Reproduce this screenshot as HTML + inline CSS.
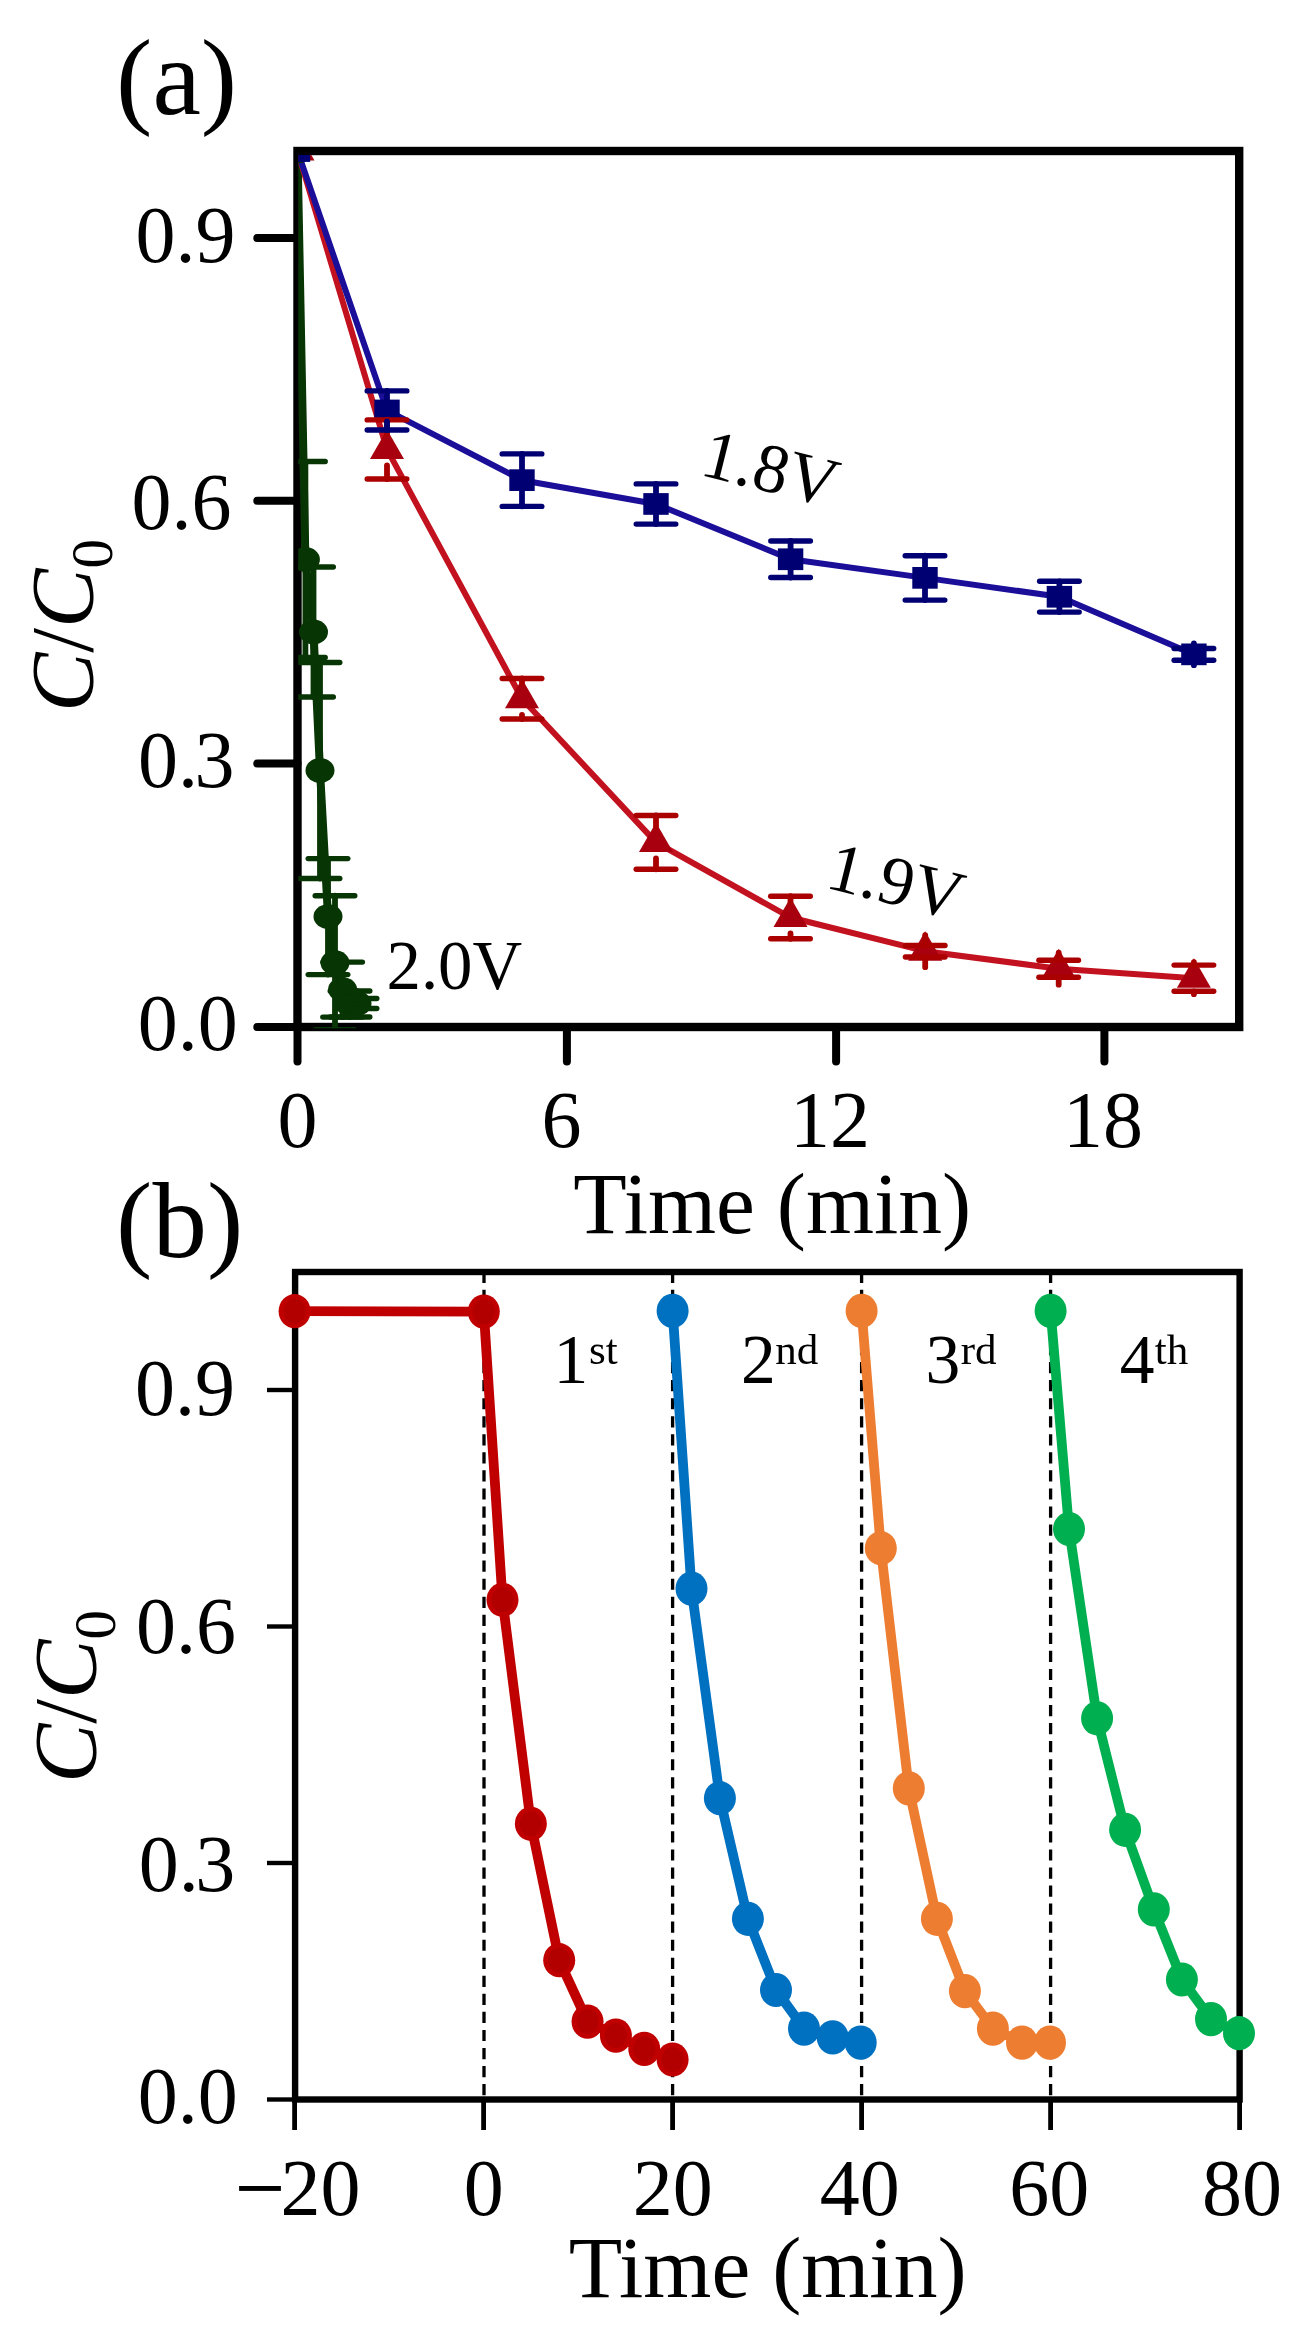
<!DOCTYPE html>
<html><head><meta charset="utf-8"><style>
html,body{margin:0;padding:0;background:#fff;width:1301px;height:2339px;overflow:hidden}
svg{display:block;will-change:transform}
text{font-family:"Liberation Serif",serif}
</style></head><body>
<svg width="1301" height="2339" viewBox="0 0 1301 2339">
<rect width="1301" height="2339" fill="#fff"/>
<g stroke="#000" stroke-width="8" stroke-linecap="round"><line x1="257.3" y1="238" x2="297.5" y2="238"/><line x1="257.3" y1="500.8" x2="297.5" y2="500.8"/><line x1="257.3" y1="763.5" x2="297.5" y2="763.5"/><line x1="257.3" y1="1027" x2="297.5" y2="1027"/><line x1="297.5" y1="1027" x2="297.5" y2="1061.6"/><line x1="566.9" y1="1027" x2="566.9" y2="1061.6"/><line x1="836.1" y1="1027" x2="836.1" y2="1061.6"/><line x1="1104.4" y1="1027" x2="1104.4" y2="1061.6"/></g>
<rect x="297.5" y="151" width="941.7" height="876" fill="none" stroke="#000" stroke-width="8.4" stroke-linejoin="miter"/>
<g font-family="Liberation Serif, serif" fill="#000">
<text x="116.10" y="114.00" font-size="109" >(a)</text>
<text x="135.50" y="262.20" font-size="80" >0.9</text>
<text x="131.50" y="529.20" font-size="80" >0.6</text>
<text x="137.9" y="787.2" font-size="80">0.<tspan dx="-3.5">3</tspan></text>
<text x="137.85" y="1050.10" font-size="80" >0.0</text>
<text x="277.50" y="1147.20" font-size="80" >0</text>
<text x="541.50" y="1147.20" font-size="80" >6</text>
<text x="789.90" y="1147.20" font-size="80" >12</text>
<text x="1062.90" y="1147.20" font-size="80" >18</text>
<text x="573.30" y="1232.90" font-size="87.5" >Time (min)</text>
<text transform="translate(92.3 712.05) rotate(-90)" font-size="89"><tspan font-style="italic">C</tspan>/<tspan font-style="italic">C</tspan><tspan font-size="59" dy="20.1">0</tspan></text>
<text x="386.50" y="989.40" font-size="68.8" >2.0V</text>
<text transform="translate(698.6 474.5) rotate(14)" font-size="69.5">1.8V</text>
<text transform="translate(823.9 887.2) rotate(14)" font-size="69.5">1.9V</text>
</g>
<defs><clipPath id="ca"><rect x="298.2" y="155" width="945" height="873.3"/></clipPath></defs>
<g clip-path="url(#ca)">
<polyline points="297.5,151.0 305.4,559.5 313.5,632.0 320.0,770.5 328.0,916.6 335.0,962.7 342.6,989.6 350.0,1004.0 357.0,1003.5" fill="none" stroke="#073503" stroke-width="8" stroke-linejoin="round"/>
<polyline points="297.5,151.0 387.0,449.4 522.0,698.8 656.0,842.4 790.5,917.5 925.2,951.2 1058.7,968.7 1193.9,978.2" fill="none" stroke="#c3121f" stroke-width="6" stroke-linejoin="round"/>
<polyline points="297.5,151.0 387.0,410.4 522.0,480.2 656.0,504.0 790.6,559.2 925.0,577.9 1059.4,596.7 1193.9,654.4" fill="none" stroke="#1b0e99" stroke-width="6" stroke-linejoin="round"/>
<ellipse cx="297.5" cy="151" rx="14.5" ry="12.4" fill="#073503"/>
<ellipse cx="305.4" cy="559.5" rx="14.5" ry="12.4" fill="#073503"/>
<ellipse cx="313.5" cy="632" rx="14.5" ry="12.4" fill="#073503"/>
<ellipse cx="320" cy="770.5" rx="14.5" ry="12.4" fill="#073503"/>
<ellipse cx="328" cy="916.6" rx="14.5" ry="12.4" fill="#073503"/>
<ellipse cx="335" cy="962.7" rx="14.5" ry="12.4" fill="#073503"/>
<ellipse cx="342.6" cy="989.6" rx="14.5" ry="12.4" fill="#073503"/>
<ellipse cx="350" cy="1004" rx="14.5" ry="12.4" fill="#073503"/>
<ellipse cx="357" cy="1003.5" rx="14.5" ry="12.4" fill="#073503"/>
<path d="M297.5,131.0 L314.5,160.5 L280.5,160.5 Z" fill="#a8000e"/>
<path d="M387.0,429.4 L404.0,458.9 L370.0,458.9 Z" fill="#a8000e"/>
<path d="M522.0,678.8 L539.0,708.2 L505.0,708.2 Z" fill="#a8000e"/>
<path d="M656.0,822.4 L673.0,851.9 L639.0,851.9 Z" fill="#a8000e"/>
<path d="M790.5,897.5 L807.5,927.0 L773.5,927.0 Z" fill="#a8000e"/>
<path d="M925.2,931.2 L942.2,960.8 L908.2,960.8 Z" fill="#a8000e"/>
<path d="M1058.7,948.7 L1075.7,978.2 L1041.7,978.2 Z" fill="#a8000e"/>
<path d="M1193.9,958.2 L1210.9,987.7 L1176.9,987.7 Z" fill="#a8000e"/>
<rect x="284.8" y="140.2" width="25.4" height="21.7" fill="#000073"/>
<rect x="374.3" y="399.6" width="25.4" height="21.7" fill="#000073"/>
<rect x="509.3" y="469.3" width="25.4" height="21.7" fill="#000073"/>
<rect x="643.3" y="493.1" width="25.4" height="21.7" fill="#000073"/>
<rect x="777.9" y="548.4" width="25.4" height="21.7" fill="#000073"/>
<rect x="912.3" y="567.0" width="25.4" height="21.7" fill="#000073"/>
<rect x="1046.7" y="585.9" width="25.4" height="21.7" fill="#000073"/>
<rect x="1181.2" y="643.5" width="25.4" height="21.7" fill="#000073"/>
<g stroke="#073503" stroke-linecap="round" fill="none"><line x1="305.4" y1="547.1" x2="305.4" y2="461.5" stroke-width="5.8"/><line x1="305.4" y1="571.9" x2="305.4" y2="657.5" stroke-width="5.8"/><line x1="285.6" y1="461.5" x2="325.2" y2="461.5" stroke-width="5.4"/><line x1="285.6" y1="657.5" x2="325.2" y2="657.5" stroke-width="5.4"/><line x1="313.5" y1="619.6" x2="313.5" y2="567.0" stroke-width="5.8"/><line x1="313.5" y1="644.4" x2="313.5" y2="697.0" stroke-width="5.8"/><line x1="293.7" y1="567.0" x2="333.3" y2="567.0" stroke-width="5.4"/><line x1="293.7" y1="697.0" x2="333.3" y2="697.0" stroke-width="5.4"/><line x1="320" y1="758.1" x2="320" y2="662.5" stroke-width="5.8"/><line x1="320" y1="782.9" x2="320" y2="878.5" stroke-width="5.8"/><line x1="300.2" y1="662.5" x2="339.8" y2="662.5" stroke-width="5.4"/><line x1="300.2" y1="878.5" x2="339.8" y2="878.5" stroke-width="5.4"/><line x1="328" y1="904.2" x2="328" y2="858.6" stroke-width="5.8"/><line x1="328" y1="929.0" x2="328" y2="974.6" stroke-width="5.8"/><line x1="308.2" y1="858.6" x2="347.8" y2="858.6" stroke-width="5.4"/><line x1="308.2" y1="974.6" x2="347.8" y2="974.6" stroke-width="5.4"/><line x1="335" y1="950.3" x2="335" y2="895.7" stroke-width="5.8"/><line x1="335" y1="975.1" x2="335" y2="1029.7" stroke-width="5.8"/><line x1="315.2" y1="895.7" x2="354.8" y2="895.7" stroke-width="5.4"/><line x1="315.2" y1="1029.7" x2="354.8" y2="1029.7" stroke-width="5.4"/><line x1="342.6" y1="977.2" x2="342.6" y2="962.1" stroke-width="5.8"/><line x1="342.6" y1="1002.0" x2="342.6" y2="1017.1" stroke-width="5.8"/><line x1="322.8" y1="962.1" x2="362.4" y2="962.1" stroke-width="5.4"/><line x1="322.8" y1="1017.1" x2="362.4" y2="1017.1" stroke-width="5.4"/><line x1="350" y1="991.6" x2="350" y2="991.0" stroke-width="5.8"/><line x1="350" y1="1016.4" x2="350" y2="1017.0" stroke-width="5.8"/><line x1="330.2" y1="991.0" x2="369.8" y2="991.0" stroke-width="5.4"/><line x1="330.2" y1="1017.0" x2="369.8" y2="1017.0" stroke-width="5.4"/><line x1="357" y1="991.1" x2="357" y2="998.5" stroke-width="5.8"/><line x1="357" y1="1015.9" x2="357" y2="1008.5" stroke-width="5.8"/><line x1="337.2" y1="998.5" x2="376.8" y2="998.5" stroke-width="5.4"/><line x1="337.2" y1="1008.5" x2="376.8" y2="1008.5" stroke-width="5.4"/></g>
<g stroke="#aa0000" stroke-linecap="round" fill="none"><line x1="387" y1="433.4" x2="387" y2="419.9" stroke-width="5.8"/><line x1="387" y1="465.4" x2="387" y2="479.0" stroke-width="5.8"/><line x1="367.2" y1="419.9" x2="406.8" y2="419.9" stroke-width="5.4"/><line x1="367.2" y1="479.0" x2="406.8" y2="479.0" stroke-width="5.4"/><line x1="522" y1="682.8" x2="522" y2="678.5" stroke-width="5.8"/><line x1="522" y1="714.8" x2="522" y2="719.0" stroke-width="5.8"/><line x1="502.2" y1="678.5" x2="541.8" y2="678.5" stroke-width="5.4"/><line x1="502.2" y1="719.0" x2="541.8" y2="719.0" stroke-width="5.4"/><line x1="656" y1="826.4" x2="656" y2="815.5" stroke-width="5.8"/><line x1="656" y1="858.4" x2="656" y2="869.3" stroke-width="5.8"/><line x1="636.2" y1="815.5" x2="675.8" y2="815.5" stroke-width="5.4"/><line x1="636.2" y1="869.3" x2="675.8" y2="869.3" stroke-width="5.4"/><line x1="790.5" y1="901.5" x2="790.5" y2="896.2" stroke-width="5.8"/><line x1="790.5" y1="933.5" x2="790.5" y2="938.8" stroke-width="5.8"/><line x1="770.7" y1="896.2" x2="810.3" y2="896.2" stroke-width="5.4"/><line x1="770.7" y1="938.8" x2="810.3" y2="938.8" stroke-width="5.4"/><line x1="925.2" y1="935.2" x2="925.2" y2="945.5" stroke-width="5.8"/><line x1="925.2" y1="967.2" x2="925.2" y2="957.0" stroke-width="5.8"/><line x1="905.4" y1="945.5" x2="945.0" y2="945.5" stroke-width="5.4"/><line x1="905.4" y1="957.0" x2="945.0" y2="957.0" stroke-width="5.4"/><line x1="1058.7" y1="952.7" x2="1058.7" y2="960.2" stroke-width="5.8"/><line x1="1058.7" y1="984.7" x2="1058.7" y2="977.2" stroke-width="5.8"/><line x1="1038.9" y1="960.2" x2="1078.5" y2="960.2" stroke-width="5.4"/><line x1="1038.9" y1="977.2" x2="1078.5" y2="977.2" stroke-width="5.4"/><line x1="1193.9" y1="962.2" x2="1193.9" y2="965.1" stroke-width="5.8"/><line x1="1193.9" y1="994.2" x2="1193.9" y2="991.3" stroke-width="5.8"/><line x1="1174.1" y1="965.1" x2="1213.7" y2="965.1" stroke-width="5.4"/><line x1="1174.1" y1="991.3" x2="1213.7" y2="991.3" stroke-width="5.4"/></g>
<g stroke="#000073" stroke-linecap="round" fill="none"><line x1="387" y1="399.6" x2="387" y2="390.9" stroke-width="5.8"/><line x1="387" y1="421.3" x2="387" y2="430.0" stroke-width="5.8"/><line x1="367.2" y1="390.9" x2="406.8" y2="390.9" stroke-width="5.4"/><line x1="367.2" y1="430.0" x2="406.8" y2="430.0" stroke-width="5.4"/><line x1="522" y1="469.3" x2="522" y2="453.9" stroke-width="5.8"/><line x1="522" y1="491.1" x2="522" y2="506.4" stroke-width="5.8"/><line x1="502.2" y1="453.9" x2="541.8" y2="453.9" stroke-width="5.4"/><line x1="502.2" y1="506.4" x2="541.8" y2="506.4" stroke-width="5.4"/><line x1="656" y1="493.1" x2="656" y2="483.9" stroke-width="5.8"/><line x1="656" y1="514.9" x2="656" y2="524.1" stroke-width="5.8"/><line x1="636.2" y1="483.9" x2="675.8" y2="483.9" stroke-width="5.4"/><line x1="636.2" y1="524.1" x2="675.8" y2="524.1" stroke-width="5.4"/><line x1="790.6" y1="548.4" x2="790.6" y2="541.0" stroke-width="5.8"/><line x1="790.6" y1="570.1" x2="790.6" y2="577.5" stroke-width="5.8"/><line x1="770.8" y1="541.0" x2="810.4" y2="541.0" stroke-width="5.4"/><line x1="770.8" y1="577.5" x2="810.4" y2="577.5" stroke-width="5.4"/><line x1="925" y1="567.0" x2="925" y2="555.7" stroke-width="5.8"/><line x1="925" y1="588.8" x2="925" y2="600.1" stroke-width="5.8"/><line x1="905.2" y1="555.7" x2="944.8" y2="555.7" stroke-width="5.4"/><line x1="905.2" y1="600.1" x2="944.8" y2="600.1" stroke-width="5.4"/><line x1="1059.4" y1="585.9" x2="1059.4" y2="581.3" stroke-width="5.8"/><line x1="1059.4" y1="607.6" x2="1059.4" y2="612.1" stroke-width="5.8"/><line x1="1039.6" y1="581.3" x2="1079.2" y2="581.3" stroke-width="5.4"/><line x1="1039.6" y1="612.1" x2="1079.2" y2="612.1" stroke-width="5.4"/><line x1="1193.9" y1="643.5" x2="1193.9" y2="648.5" stroke-width="5.8"/><line x1="1193.9" y1="665.2" x2="1193.9" y2="660.3" stroke-width="5.8"/><line x1="1174.1" y1="648.5" x2="1213.7" y2="648.5" stroke-width="5.4"/><line x1="1174.1" y1="660.3" x2="1213.7" y2="660.3" stroke-width="5.4"/></g>
</g>
<g stroke="#000" stroke-width="3.3" stroke-dasharray="11.2 6.85"><line x1="484.0" y1="1271.8" x2="484.0" y2="2099"/><line x1="672.6" y1="1271.8" x2="672.6" y2="2099"/><line x1="861.6" y1="1271.8" x2="861.6" y2="2099"/><line x1="1050.6" y1="1271.8" x2="1050.6" y2="2099"/></g>
<g stroke="#000"><line x1="267" y1="1390" x2="295" y2="1390" stroke-width="4.4"/><line x1="267" y1="1626.5" x2="295" y2="1626.5" stroke-width="4.4"/><line x1="267" y1="1863" x2="295" y2="1863" stroke-width="4.4"/><line x1="267" y1="2099.5" x2="295" y2="2099.5" stroke-width="4.4"/><line x1="294.6" y1="2099.5" x2="294.6" y2="2130" stroke-width="4.8"/><line x1="483.6" y1="2099.5" x2="483.6" y2="2130" stroke-width="4.8"/><line x1="672.6" y1="2099.5" x2="672.6" y2="2130" stroke-width="4.8"/><line x1="861.6" y1="2099.5" x2="861.6" y2="2130" stroke-width="4.8"/><line x1="1050.6" y1="2099.5" x2="1050.6" y2="2130" stroke-width="4.8"/><line x1="1239.6" y1="2099.5" x2="1239.6" y2="2130" stroke-width="4.8"/></g>
<rect x="295.1" y="1272" width="944.5" height="827.5" fill="none" stroke="#000" stroke-width="6.4"/>
<g font-family="Liberation Serif, serif" fill="#000">
<text x="116.10" y="1257.00" font-size="109" >(b)</text>
<text x="135.00" y="1415.10" font-size="80" >0.9</text>
<text x="136.00" y="1652.80" font-size="80" >0.6</text>
<text x="138.75" y="1891.1" font-size="80">0.<tspan dx="-3.5">3</tspan></text>
<text x="137.85" y="2122.80" font-size="80" >0.0</text>
<rect x="239.1" y="2186" width="41.8" height="4.9" fill="#000"/>
<text x="280.60" y="2214.80" font-size="80" >20</text>
<text x="463.75" y="2214.80" font-size="80" >0</text>
<text x="632.70" y="2214.80" font-size="80" >20</text>
<text x="819.70" y="2214.80" font-size="80" >40</text>
<text x="1009.20" y="2214.80" font-size="80" >60</text>
<text x="1202.00" y="2214.80" font-size="80" >80</text>
<text x="568.70" y="2296.50" font-size="87.5" >Time (min)</text>
<text transform="translate(95.0 1783) rotate(-90)" font-size="89"><tspan font-style="italic">C</tspan>/<tspan font-style="italic">C</tspan><tspan font-size="59" dy="20.1">0</tspan></text>
<text x="553.60" y="1383.00" font-size="69.5" >1</text>
<text x="589.10" y="1363.50" font-size="43" >st</text>
<text x="741.00" y="1383.00" font-size="69.5" >2</text>
<text x="775.30" y="1363.50" font-size="43" >nd</text>
<text x="925.50" y="1383.00" font-size="69.5" >3</text>
<text x="960.80" y="1363.50" font-size="43" >rd</text>
<text x="1119.70" y="1383.00" font-size="69.5" >4</text>
<text x="1154.80" y="1363.50" font-size="43" >th</text>
</g>
<polyline points="294.6,1311.2 483.8,1311.6 502.5,1599.8 530.9,1823.8 559.2,1960.2 587.5,2021.6 615.9,2035.6 644.2,2048.9 672.6,2059.5" fill="none" stroke="#c00000" stroke-width="9.8" stroke-linejoin="round"/>
<ellipse cx="294.6" cy="1311.2" rx="16" ry="17.1" fill="#c00000"/><ellipse cx="294.6" cy="1311.2" rx="11" ry="12.5" fill="#b20000"/>
<ellipse cx="483.8" cy="1311.6" rx="16" ry="17.1" fill="#c00000"/><ellipse cx="483.8" cy="1311.6" rx="11" ry="12.5" fill="#b20000"/>
<ellipse cx="502.5" cy="1599.8" rx="16" ry="17.1" fill="#c00000"/><ellipse cx="502.5" cy="1599.8" rx="11" ry="12.5" fill="#b20000"/>
<ellipse cx="530.85" cy="1823.8" rx="16" ry="17.1" fill="#c00000"/><ellipse cx="530.85" cy="1823.8" rx="11" ry="12.5" fill="#b20000"/>
<ellipse cx="559.2" cy="1960.2" rx="16" ry="17.1" fill="#c00000"/><ellipse cx="559.2" cy="1960.2" rx="11" ry="12.5" fill="#b20000"/>
<ellipse cx="587.55" cy="2021.6" rx="16" ry="17.1" fill="#c00000"/><ellipse cx="587.55" cy="2021.6" rx="11" ry="12.5" fill="#b20000"/>
<ellipse cx="615.9" cy="2035.6" rx="16" ry="17.1" fill="#c00000"/><ellipse cx="615.9" cy="2035.6" rx="11" ry="12.5" fill="#b20000"/>
<ellipse cx="644.25" cy="2048.9" rx="16" ry="17.1" fill="#c00000"/><ellipse cx="644.25" cy="2048.9" rx="11" ry="12.5" fill="#b20000"/>
<ellipse cx="672.6" cy="2059.5" rx="16" ry="17.1" fill="#c00000"/><ellipse cx="672.6" cy="2059.5" rx="11" ry="12.5" fill="#b20000"/>
<polyline points="672.6,1310.9 691.5,1588.6 719.9,1798.2 747.9,1918.8 776.0,1990.0 804.0,2028.6 832.7,2037.4 860.7,2042.6" fill="none" stroke="#0070c0" stroke-width="9.8" stroke-linejoin="round"/>
<ellipse cx="672.6" cy="1310.9" rx="16" ry="17.1" fill="#0070c0"/>
<ellipse cx="691.5" cy="1588.6" rx="16" ry="17.1" fill="#0070c0"/>
<ellipse cx="719.9" cy="1798.2" rx="16" ry="17.1" fill="#0070c0"/>
<ellipse cx="747.9" cy="1918.8" rx="16" ry="17.1" fill="#0070c0"/>
<ellipse cx="776" cy="1990" rx="16" ry="17.1" fill="#0070c0"/>
<ellipse cx="804" cy="2028.6" rx="16" ry="17.1" fill="#0070c0"/>
<ellipse cx="832.7" cy="2037.4" rx="16" ry="17.1" fill="#0070c0"/>
<ellipse cx="860.7" cy="2042.6" rx="16" ry="17.1" fill="#0070c0"/>
<polyline points="861.6,1310.9 880.8,1548.2 908.8,1788.4 936.9,1918.8 964.9,1991.1 992.9,2028.6 1022.0,2042.6 1050.0,2042.6" fill="none" stroke="#ed7d31" stroke-width="9.8" stroke-linejoin="round"/>
<ellipse cx="861.6" cy="1310.9" rx="16" ry="17.1" fill="#ed7d31"/>
<ellipse cx="880.8" cy="1548.2" rx="16" ry="17.1" fill="#ed7d31"/>
<ellipse cx="908.8" cy="1788.4" rx="16" ry="17.1" fill="#ed7d31"/>
<ellipse cx="936.9" cy="1918.8" rx="16" ry="17.1" fill="#ed7d31"/>
<ellipse cx="964.9" cy="1991.1" rx="16" ry="17.1" fill="#ed7d31"/>
<ellipse cx="992.9" cy="2028.6" rx="16" ry="17.1" fill="#ed7d31"/>
<ellipse cx="1022" cy="2042.6" rx="16" ry="17.1" fill="#ed7d31"/>
<ellipse cx="1050" cy="2042.6" rx="16" ry="17.1" fill="#ed7d31"/>
<polyline points="1050.6,1310.9 1069.0,1529.0 1097.1,1718.3 1125.1,1829.8 1153.8,1909.4 1181.9,1979.5 1211.0,2019.1 1239.0,2033.2" fill="none" stroke="#00b050" stroke-width="9.8" stroke-linejoin="round"/>
<ellipse cx="1050.6" cy="1310.9" rx="16" ry="17.1" fill="#00b050"/>
<ellipse cx="1069" cy="1529" rx="16" ry="17.1" fill="#00b050"/>
<ellipse cx="1097.1" cy="1718.3" rx="16" ry="17.1" fill="#00b050"/>
<ellipse cx="1125.1" cy="1829.8" rx="16" ry="17.1" fill="#00b050"/>
<ellipse cx="1153.8" cy="1909.4" rx="16" ry="17.1" fill="#00b050"/>
<ellipse cx="1181.9" cy="1979.5" rx="16" ry="17.1" fill="#00b050"/>
<ellipse cx="1211" cy="2019.1" rx="16" ry="17.1" fill="#00b050"/>
<ellipse cx="1239" cy="2033.2" rx="16" ry="17.1" fill="#00b050"/>
</svg>
</body></html>
